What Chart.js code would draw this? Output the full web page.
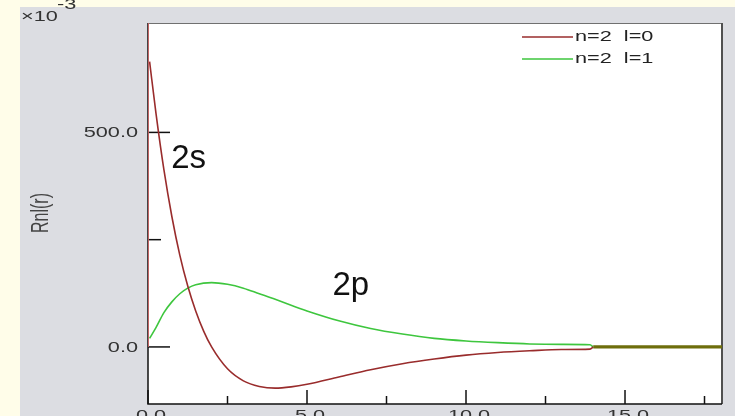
<!DOCTYPE html>
<html>
<head>
<meta charset="utf-8">
<script src="https://cdn.jsdelivr.net/npm/chart.js@4.4.1/dist/chart.umd.min.js"></script>
<style>
  html, body { margin: 0; padding: 0; background: #fffde9; }
  #wrap { width: 735px; height: 416px; position: relative; }
  canvas { display: block; }
</style>
</head>
<body>
<div id="wrap"><canvas id="c" width="735" height="416"></canvas></div>
<script>
// ---- data ----
const r2s = [0.05, 0.25, 0.5, 0.75, 1, 1.25, 1.5, 1.75, 2, 2.5, 3, 3.5, 4, 4.5, 5, 6, 7, 8, 9, 10, 11, 12, 13, 13.9, 14.0];
const R2s = [665, 545, 413, 304, 214, 142, 84, 37, 0, -51, -79, -92, -96, -93, -87, -70, -53, -39, -28, -19, -13, -9, -6, -5, 0];
const rEdge = [0, 0];
const REdge = [0, 760];
const r2p = [0.05, 0.25, 0.5, 0.75, 1, 1.25, 1.5, 2, 2.5, 3, 3.5, 4, 4.5, 5, 6, 7, 8, 9, 10, 11, 12, 13, 13.9, 14.0];
const R2p = [20, 45, 80, 105, 124, 137, 145, 150, 146, 137, 124, 111, 97, 84, 61, 43, 30, 20, 14, 10, 7, 6, 5, 0];
const rTail = [14.0, 18.05];
const RTail = [0, 0];
const seriesNames = ['n=2  l=0', 'n=2  l=1'];
const xMajorTicks = [0, 5, 10, 15];
const xTickLabels = ['0.0', '5.0', '10.0', '15.0'];
const xMinorTicks = [2.5, 7.5, 12.5, 17.5];
const yMajorTicks = [0, 500];
const yTickLabels = ['0.0', '500.0'];
const yMinorTicks = [250];
const yTitle = 'Rnl(r)';
const yExponent = ['\u00d710', '-3'];
const curveLabels = [{text: '2s', x: 0.73, y: 416}, {text: '2p', x: 5.8, y: 121}];

const toPts = (xs, ys) => xs.map((x, i) => ({x: x, y: ys[i]}));

const RED = '#992c2c', RED_EDGE = '#e06a6a', GREEN = '#3ec63e', OLIVE = '#6e6e0c';
const SX = 1.55; // horizontal stretch of the small texts

function stretchedText(ctx, txt, x, y, align, base, font, color) {
  ctx.save();
  ctx.font = font;
  ctx.fillStyle = color;
  ctx.textBaseline = base;
  const w = ctx.measureText(txt).width * SX;
  let left = x;
  if (align === 'right') left = x - w;
  else if (align === 'center') left = x - w / 2;
  ctx.translate(left, y);
  ctx.scale(SX, 1);
  ctx.textAlign = 'left';
  ctx.fillText(txt, 0, 0);
  ctx.restore();
}

const framePlugin = {
  id: 'frame',
  beforeDraw(chart) {
    const ctx = chart.ctx, a = chart.chartArea;
    ctx.save();
    ctx.fillStyle = '#fffde9';
    ctx.fillRect(0, 0, chart.width, chart.height);
    ctx.fillStyle = '#dcdde2';
    ctx.fillRect(20, 7, chart.width - 20, chart.height - 7);
    ctx.fillStyle = '#ffffff';
    ctx.fillRect(a.left, a.top, a.right - a.left, a.bottom - a.top);
    ctx.restore();
  },
  beforeDatasetsDraw(chart) {
    const ctx = chart.ctx, a = chart.chartArea;
    const xs = chart.scales.x, ys = chart.scales.y;
    ctx.save();
    ctx.strokeStyle = '#707070'; ctx.lineWidth = 1;
    ctx.beginPath(); ctx.moveTo(a.left, a.top + 0.5); ctx.lineTo(a.right, a.top + 0.5); ctx.stroke();
    ctx.strokeStyle = '#505050'; ctx.lineWidth = 2;
    ctx.beginPath(); ctx.moveTo(a.right, a.top); ctx.lineTo(a.right, a.bottom); ctx.stroke();
    ctx.strokeStyle = '#111'; ctx.lineWidth = 1.5;
    ctx.beginPath(); ctx.moveTo(a.left, a.top); ctx.lineTo(a.left, a.bottom); ctx.lineTo(a.right, a.bottom); ctx.stroke();
    ctx.lineWidth = 1.5; ctx.strokeStyle = '#111';
    xMajorTicks.forEach(v => { const p = xs.getPixelForValue(v); ctx.beginPath(); ctx.moveTo(p, a.bottom); ctx.lineTo(p, a.bottom - 14); ctx.stroke(); });
    xMinorTicks.forEach(v => { const p = xs.getPixelForValue(v); ctx.beginPath(); ctx.moveTo(p, a.bottom); ctx.lineTo(p, a.bottom - 8); ctx.stroke(); });
    yMajorTicks.forEach(v => { const p = ys.getPixelForValue(v); ctx.beginPath(); ctx.moveTo(a.left, p); ctx.lineTo(a.left + 22, p); ctx.stroke(); });
    yMinorTicks.forEach(v => { const p = ys.getPixelForValue(v); ctx.beginPath(); ctx.moveTo(a.left, p); ctx.lineTo(a.left + 13, p); ctx.stroke(); });
    ctx.restore();
  },
  afterDatasetsDraw(chart) {
    const ctx = chart.ctx, a = chart.chartArea;
    const xs = chart.scales.x, ys = chart.scales.y;
    const f = '14px "Liberation Sans", Arial, sans-serif';
    yMajorTicks.forEach((v, i) => stretchedText(ctx, yTickLabels[i], a.left - 10, ys.getPixelForValue(v) + 1, 'right', 'middle', f, '#333'));
    xMajorTicks.forEach((v, i) => stretchedText(ctx, xTickLabels[i], xs.getPixelForValue(v) + 3, a.bottom + 5, 'center', 'top', f, '#333'));
    stretchedText(ctx, yExponent[0], 21, 21, 'left', 'alphabetic', f, '#333');
    stretchedText(ctx, yExponent[1], 57, 9, 'left', 'alphabetic', f, '#333');
    ctx.save();
    ctx.translate(41, 213);
    ctx.rotate(-Math.PI / 2);
    ctx.scale(1, SX);
    ctx.font = '16px "Liberation Sans", Arial, sans-serif';
    ctx.fillStyle = '#444';
    ctx.textAlign = 'center'; ctx.textBaseline = 'middle';
    ctx.fillText(yTitle, 0, 0);
    ctx.restore();
    const cols = [RED, GREEN];
    seriesNames.forEach((name, i) => {
      const y = a.top + 14 + i * 22;
      ctx.save();
      ctx.strokeStyle = cols[i]; ctx.lineWidth = 1.5;
      ctx.beginPath(); ctx.moveTo(a.right - 200, y); ctx.lineTo(a.right - 149, y); ctx.stroke();
      ctx.restore();
      stretchedText(ctx, name, a.right - 147, y, 'left', 'middle', f, '#222');
    });
    ctx.save();
    ctx.font = '33px "Liberation Sans", Arial, sans-serif';
    ctx.fillStyle = '#111';
    ctx.textAlign = 'left'; ctx.textBaseline = 'alphabetic';
    curveLabels.forEach(l => ctx.fillText(l.text, xs.getPixelForValue(l.x), ys.getPixelForValue(l.y)));
    ctx.restore();
  }
};

new Chart(document.getElementById('c'), {
  type: 'line',
  data: {
    datasets: [
      {label: 'edge', data: toPts(rEdge, REdge), borderColor: RED_EDGE, borderWidth: 1.6, pointRadius: 0},
      {label: seriesNames[0], data: toPts(r2s, R2s), borderColor: RED, borderWidth: 1.6, pointRadius: 0, cubicInterpolationMode: 'monotone'},
      {label: seriesNames[1], data: toPts(r2p, R2p), borderColor: GREEN, borderWidth: 1.6, pointRadius: 0, cubicInterpolationMode: 'monotone'},
      {label: 'tail', data: toPts(rTail, RTail), borderColor: OLIVE, borderWidth: 3.2, pointRadius: 0}
    ]
  },
  options: {
    responsive: false,
    animation: false,
    events: [],
    layout: {padding: {left: 148, top: 23, right: 13, bottom: 12}},
    plugins: {legend: {display: false}, tooltip: {enabled: false}},
    scales: {
      x: {type: 'linear', min: 0, max: 18.05, display: false},
      y: {type: 'linear', min: -133, max: 755, display: false}
    }
  },
  plugins: [framePlugin]
});
</script>
</body>
</html>
